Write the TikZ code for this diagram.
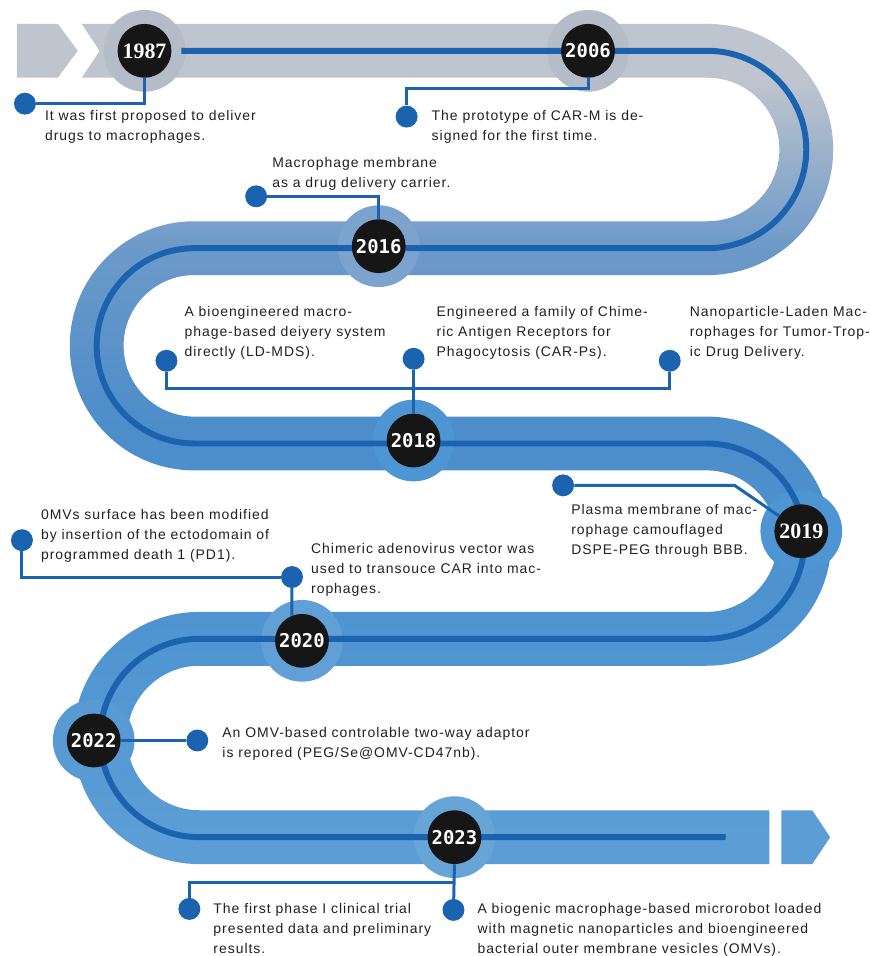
\documentclass[tikz,border=0pt]{standalone}
\usepackage{fontspec}
\setmainfont{Liberation Sans}[LetterSpace=7]
\newfontfamily\yearfont{DejaVu Sans Mono}
\newfontfamily\serifyear{Liberation Serif}
\usetikzlibrary{positioning, calc, backgrounds}

\definecolor{trackgray}{HTML}{BFC5CE}
\definecolor{halogray}{HTML}{B4BCC8}
\definecolor{steel}{HTML}{6C99C9}
\definecolor{blueA}{HTML}{4C8DCA}
\definecolor{blueC}{HTML}{4F95D1}
\definecolor{blueD}{HTML}{5B9DD4}
\definecolor{halo18}{HTML}{4E95D4}
\definecolor{lineblue}{HTML}{1B63AF}
\definecolor{inkgray}{HTML}{231F20}
\definecolor{ballblack}{HTML}{161616}

% gray on top, blue below (stops from bottom of the track box)
\pgfdeclareverticalshading{trackshade}{100bp}{color(0bp)=(blueD); color(26.6bp)=(blueD);
  color(38.4bp)=(blueC); color(50.9bp)=(blueA); color(61.6bp)=(steel);
  color(71.7bp)=(trackgray); color(100bp)=(trackgray)}

\begin{document}
\begin{tikzpicture}[
  x=1pt, y=-1pt,
  every node/.style={font=\fontsize{14}{20}\selectfont, text=inkgray},
  yearball/.style={circle, fill=ballblack, minimum size=54pt, inner sep=0pt,
    text=white, font=\yearfont\bfseries\fontsize{19}{19}\selectfont},
  serifball/.style={yearball, font=\serifyear\bfseries\fontsize{22}{22}\selectfont},
  bulletdot/.style={circle, fill=lineblue, minimum size=22pt, inner sep=0pt},
  notetext/.style={anchor=north west, align=left, inner sep=0pt},
  linkline/.style={draw=lineblue, line width=3pt}
]
% years
\node[serifball] (y1987) at (145,51) {1987};
\node[yearball] (y2006) at (590,51) {2006};
\node[yearball] (y2016) at (380,247) {2016};
\node[yearball] (y2018) at (415,442) {2018};
\node[serifball] (y2019) at (804,533) {2019};
\node[yearball] (y2020) at (303,643) {2020};
\node[yearball] (y2022) at (94,743) {2022};
\node[yearball] (y2023) at (456,840) {2023};

\begin{scope}[on background layer]
\fill[white] (0,0) rectangle (872,956);
% track
\fill[trackgray] (17,24) -- (58,24) -- (78,51) -- (58,78) -- (17,78) -- cycle;
\shade[shading=trackshade] (82,24) -- (710,24)
  arc[start angle=-90, end angle=90, radius=126] -- (195,276)
  arc[start angle=-90, end angle=-270, radius=71] -- (709,418)
  arc[start angle=-90, end angle=90, radius=125] -- (200,668)
  arc[start angle=-90, end angle=-270, radius=72.5] -- (772,813) -- (772,867) -- (200,867)
  arc[start angle=90, end angle=270, radius=126.5] -- (709,614)
  arc[start angle=90, end angle=-90, radius=71] -- (195,472)
  arc[start angle=90, end angle=270, radius=125] -- (710,222)
  arc[start angle=90, end angle=-90, radius=72] -- (82,78) -- (100,51) -- cycle;
\fill[blueD] (784,813) -- (815,813) -- (833,840) -- (815,867) -- (784,867) -- cycle;

% halos
\fill[halogray] (y1987) circle[radius=41];
\fill[halogray] (y2006) circle[radius=41];
\fill[steel!90!white] (y2016) circle[radius=41];
\fill[halo18] (y2018) circle[radius=41];
\fill[halo18] (y2019) circle[radius=41];
\fill[blueC!90!white] (y2020) circle[radius=41];
\fill[blueC!95!white] (y2022) circle[radius=41];
\fill[blueD!92!white] (y2023) circle[radius=41];

% centre line
\draw[lineblue, line width=6pt] (182,51) -- (710,51)
  arc[start angle=-90, end angle=90, radius=99] -- (195,249)
  arc[start angle=-90, end angle=-270, radius=98] -- (709,445)
  arc[start angle=-90, end angle=90, radius=98] -- (200,641)
  arc[start angle=-90, end angle=-270, radius=99.5] -- (728,840);
\end{scope}

% 1987
\node[bulletdot] (b1987) at (25,104) {};
\node[notetext] (t1987) at (45,111) {It was first proposed to deliver\\drugs to macrophages.};
\draw[linkline] (y1987.south) |- (b1987);

% 2006
\node[bulletdot] (b2006) at (408,117) {};
\node[notetext] (t2006) at (433,111) {The prototype of CAR-M is de-\\signed for the first time.};
\draw[linkline] (y2006.south) -- ++(0,11) -| (b2006);

% 2016
\node[bulletdot] (b2016) at (257,197) {};
\node[notetext] (t2016) at (273,158) {Macrophage membrane\\as a drug delivery carrier.};
\draw[linkline] (y2016.north) |- (b2016);

% 2018
\node[bulletdot] (b2018a) at (167,362) {};
\node[bulletdot] (b2018b) at (415,360) {};
\node[bulletdot] (b2018c) at (672,362) {};
\coordinate (k2018) at (415,390);
\node[notetext] (t2018a) at (185,307) {A bioengineered macro-\\phage-based deiyery system\\directly (LD-MDS).};
\node[notetext] (t2018b) at (438,307) {Engineered a family of Chime-\\ric Antigen Receptors for\\Phagocytosis (CAR-Ps).};
\node[notetext] (t2018c) at (692,307) {Nanoparticle-Laden Mac-\\rophages for Tumor-Trop-\\ic Drug Delivery.};
\draw[linkline] (b2018a) |- (k2018) -| (b2018c);
\draw[linkline] (y2018.north) -- (b2018b);

% 2019
\node[bulletdot] (b2019) at (565,487) {};
\node[notetext] (t2019) at (573,506) {Plasma membrane of mac-\\rophage camouflaged\\DSPE-PEG through BBB.};
\draw[linkline] (b2019) -- ++(172,0) -- (y2019);

% 2020
\node[bulletdot] (b2020a) at (22,542) {};
\node[bulletdot] (b2020b) at (293,579) {};
\node[notetext] (t2020a) at (41,511) {0MVs surface has been modified\\by insertion of the ectodomain of\\programmed death 1 (PD1).};
\node[notetext] (t2020b) at (312,545) {Chimeric adenovirus vector was\\used to transouce CAR into mac-\\rophages.};
\draw[linkline] (b2020a) |- (b2020b);
\draw[linkline] (y2020.112) -- (b2020b);

% 2022
\node[bulletdot] (b2022) at (198,743) {};
\node[notetext] (t2022) at (223,730) {An OMV-based controlable two-way adaptor\\is repored (PEG/Se@OMV-CD47nb).};
\draw[linkline] (y2022) -- (b2022);

% 2023
\node[bulletdot] (b2023a) at (190,912) {};
\node[bulletdot] (b2023b) at (455,913) {};
\coordinate (k2023) at (455,885);
\node[notetext] (t2023a) at (214,906) {The first phase I clinical trial\\presented data and preliminary\\results.};
\node[notetext] (t2023b) at (479,906) {A biogenic macrophage-based microrobot loaded\\with magnetic nanoparticles and bioengineered\\bacterial outer membrane vesicles (OMVs).};
\draw[linkline] (y2023.south) -- (b2023b);
\draw[linkline] (b2023a) |- (k2023);
\end{tikzpicture}
\end{document}
